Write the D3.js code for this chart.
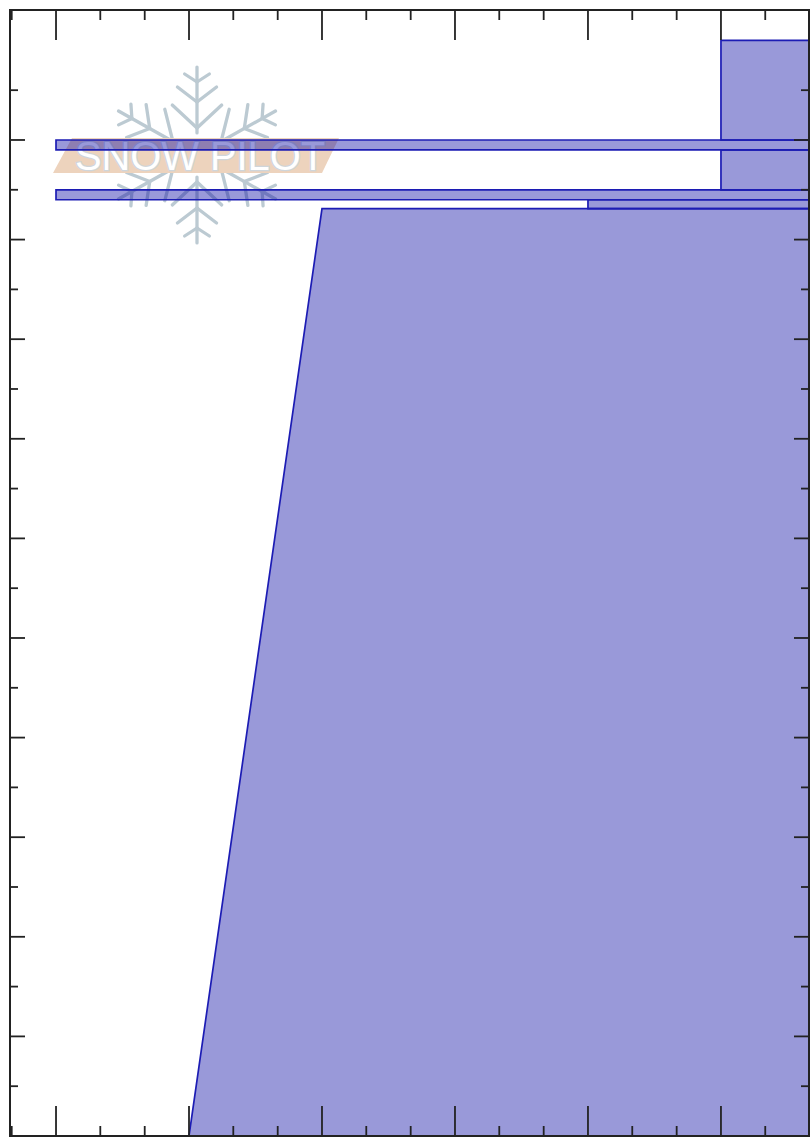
<!DOCTYPE html>
<html>
<head>
<meta charset="utf-8">
<script src="https://cdnjs.cloudflare.com/ajax/libs/d3/7.8.5/d3.min.js"></script>
<style>
  html, body { margin: 0; padding: 0; background: #fff; }
  svg { display: block; }
</style>
</head>
<body>
<div id="chart"></div>
<script>
// snow profile layers, top to bottom (height in cm, hardness as index)
const layerTop = [110, 100, 99, 95, 94, 93.1];
const layerBottom = [100, 99, 95, 94, 93.1, 0];
const hardnessTop = [5, 0, 5, 0, 4, 2];
const hardnessBottom = [5, 0, 5, 0, 4, 1];

const xMajor = [0, 1, 2, 3, 4, 5];
const xMinor = [-0.333, 0.333, 0.667, 1.333, 1.667, 2.333, 2.667, 3.333, 3.667, 4.333, 4.667, 5.333];
const yMajor = [10, 20, 30, 40, 50, 60, 70, 80, 90, 100];
const yMinor = [5, 15, 25, 35, 45, 55, 65, 75, 85, 95, 105];

// watermark flake branches: distance along arm, distance at tip, offset at tip
const flakeBranches = [[27, 50, 24], [53, 68, 19], [73, 81, 12]];
const flakeAngles = [0, 60, 120, 180, 240, 300];

const width = 810, height = 1140;
const frameLeft = 10, frameRight = 809, frameTop = 10, frameBottom = 1136;

const x = d3.scaleLinear().domain([-0.346, 5.662]).range([frameLeft, frameRight]);
const y = d3.scaleLinear().domain([0, 113]).range([frameBottom, frameTop + 0.5]);

const svg = d3.select("#chart").append("svg")
  .attr("width", width)
  .attr("height", height);

svg.append("clipPath").attr("id", "frameClip")
  .append("rect")
  .attr("x", frameLeft).attr("y", frameTop)
  .attr("width", frameRight - frameLeft).attr("height", frameBottom - frameTop);

/* watermark goes under the layers */
const mark = svg.append("g");
const flake = mark.append("g")
  .attr("transform", "translate(197,155) scale(1.03,1)")
  .attr("fill", "none")
  .attr("stroke", "#bccad2")
  .attr("stroke-width", 3.2)
  .attr("stroke-linecap", "round");

flakeAngles.forEach(a => {
  const arm = flake.append("g").attr("transform", `rotate(${a})`);
  arm.append("line").attr("y1", -22).attr("y2", -88);
  flakeBranches.forEach(b => {
    [-1, 1].forEach(side => {
      arm.append("line")
        .attr("x1", 0).attr("y1", -b[0])
        .attr("x2", side * b[2]).attr("y2", -b[1]);
    });
  });
});

mark.append("path")
  .attr("d", "M53,173L72,138L339,138L322,173Z")
  .attr("fill", "#edd3bd");

mark.append("text")
  .attr("x", 75).attr("y", 170)
  .attr("textLength", 250)
  .attr("lengthAdjust", "spacingAndGlyphs")
  .attr("font-family", "'Liberation Sans', sans-serif")
  .attr("font-size", 40)
  .attr("fill", "#ffffff")
  .attr("stroke", "#cfd5da")
  .attr("stroke-width", 2.4)
  .attr("paint-order", "stroke")
  .text("SNOW PILOT");

/* layers */
const layers = layerTop.map((t, i) => ({
  top: t, bottom: layerBottom[i], hTop: hardnessTop[i], hBottom: hardnessBottom[i]
}));

svg.append("g")
  .attr("clip-path", "url(#frameClip)")
  .selectAll(".layer")
  .data(layers)
  .join("path")
  .attr("class", "layer")
  .attr("d", d => d3.line()([
    [x(d.hTop), y(d.top)],
    [frameRight + 5, y(d.top)],
    [frameRight + 5, y(d.bottom)],
    [x(d.hBottom), y(d.bottom)]
  ]) + "Z")
  .attr("fill", "rgba(0,0,160,0.4)")
  .attr("stroke", "#1c1cb4")
  .attr("stroke-width", 1.7);

/* ticks, all pointing inwards, no labels */
function drawTicks(axisFn, scale, values, size, tx, ty) {
  const g = svg.append("g")
    .attr("transform", `translate(${tx},${ty})`)
    .call(axisFn(scale).offset(0).tickValues(values).tickSizeInner(size).tickSizeOuter(0).tickFormat(""));
  g.select(".domain").remove();
  g.selectAll("line").attr("stroke", "#222").attr("stroke-width", 1.8);
}

drawTicks(d3.axisTop, x, xMajor, -30, 0, frameTop);
drawTicks(d3.axisTop, x, xMinor, -10, 0, frameTop);
drawTicks(d3.axisBottom, x, xMajor, -30, 0, frameBottom);
drawTicks(d3.axisBottom, x, xMinor, -10, 0, frameBottom);
drawTicks(d3.axisLeft, y, yMajor, -15, frameLeft, 0);
drawTicks(d3.axisLeft, y, yMinor, -8, frameLeft, 0);
drawTicks(d3.axisRight, y, yMajor, -15, frameRight, 0);
drawTicks(d3.axisRight, y, yMinor, -8, frameRight, 0);

svg.append("rect")
  .attr("x", frameLeft).attr("y", frameTop)
  .attr("width", frameRight - frameLeft).attr("height", frameBottom - frameTop)
  .attr("fill", "none")
  .attr("stroke", "#222")
  .attr("stroke-width", 2);
</script>
</body>
</html>
